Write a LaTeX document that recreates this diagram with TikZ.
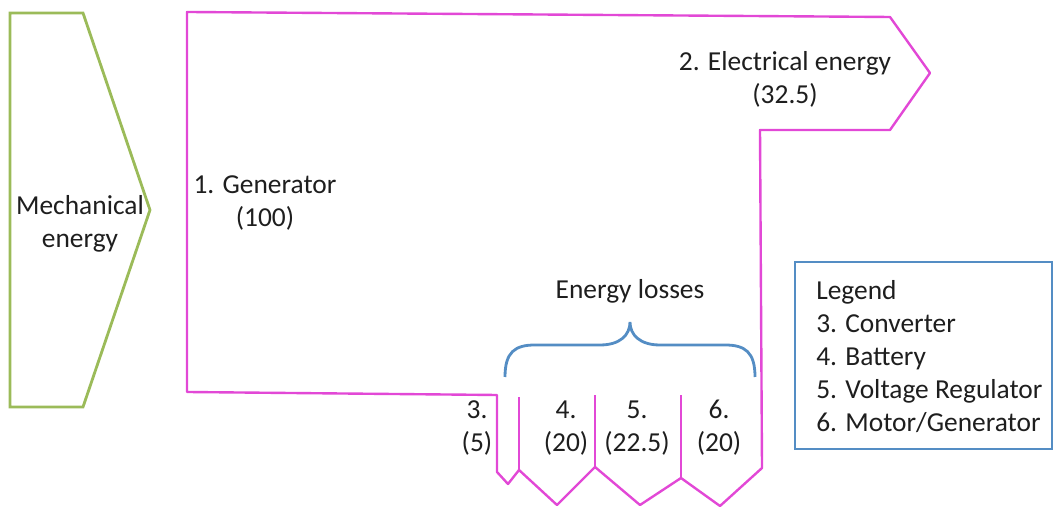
\documentclass[tikz,border=0pt]{standalone}
\usepackage{fontspec}
\setmainfont{Carlito}
\usetikzlibrary{positioning}
\definecolor{flowpink}{RGB}{226,72,214}
\definecolor{mechgreen}{RGB}{155,187,89}
\definecolor{legendblue}{RGB}{84,141,196}
\definecolor{textgray}{RGB}{30,30,30}

\begin{document}
\begin{tikzpicture}[x=0.025cm, y=0.025cm,
    lbl/.style={align=center, text=textgray, font=\fontsize{19.5}{23.5}\selectfont, inner sep=0pt},
    flow/.style={draw=flowpink, line width=1.7pt, line join=round}]
    \useasboundingbox (0,0) rectangle (1056,510);

    % Mechanical energy input arrow
    \draw[mechgreen, line width=2pt] (10,497) -- (83,497) -- (150,300) -- (83,103) -- (10,103) -- cycle;
    \node[lbl] (mech) at (80,286) {Mechanical\\energy};

    % Generator block with electrical output and losses
    \draw[flow] (187,498) -- (890,493) -- (930,437) -- (890,380) -- (760,380)
        -- (762,42) -- (720,4) -- (681,32) -- (640,5) -- (595,43) -- (557,5)
        -- (519,40) -- (508,26) -- (497,38) -- (497,115) -- (187,118) -- cycle;
    \draw[flow] (519,40) -- (519,113);
    \draw[flow] (595,43) -- (595,115);
    \draw[flow] (681,32) -- (681,115);

    \node[lbl] (gen) at (265,307) {1. Generator\\(100)};
    \node[lbl] (elec) at (785,431) {2. Electrical energy\\(32.5)};

    % Losses
    \draw[legendblue, line width=2pt] (505,133) .. controls (505,158) and (515,165) .. (535,165)
        -- (600,165) .. controls (620,165) and (630,175) .. (630,188)
        .. controls (630,175) and (640,165) .. (660,165) -- (725,165)
        .. controls (745,165) and (755,158) .. (755,133);
    \node[lbl] (losses) at (630,219) {Energy losses};
    \node[lbl] (conv) at (477,82) {3.\\(5)};
    \node[lbl] (batt) at (566,82) {4.\\(20)};
    \node[lbl] (volt) at (637,82) {5.\\(22.5)};
    \node[lbl] (motor) at (719,82) {6.\\(20)};

    % Legend
    \draw[legendblue, line width=2pt] (795,248) rectangle (1052,61);
    \node[lbl, align=left, anchor=north west] (legend) at (816,230)
        {Legend\\3. Converter\\4. Battery\\5. Voltage Regulator\\6. Motor/Generator};
\end{tikzpicture}
\end{document}
